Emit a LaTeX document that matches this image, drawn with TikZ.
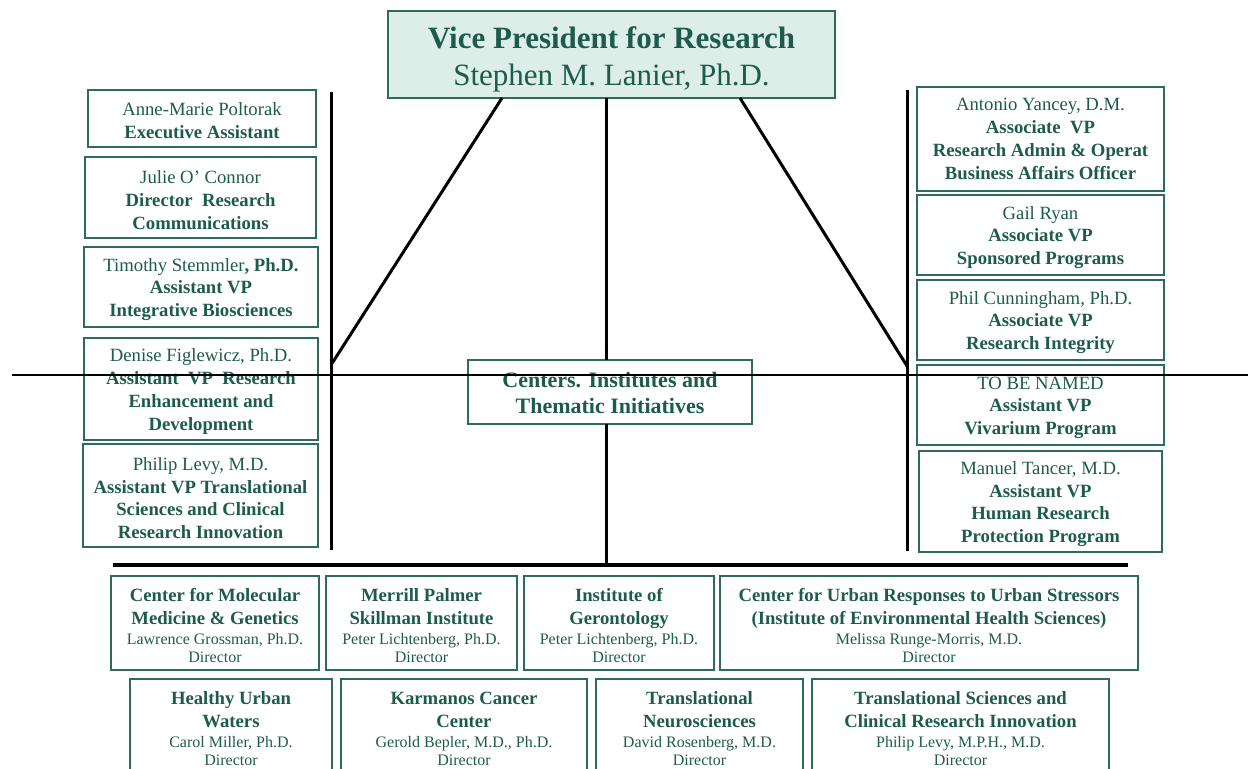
\documentclass[tikz,border=0pt]{standalone}
\usepackage{fontspec}
\setmainfont{Liberation Serif}
\definecolor{txt}{HTML}{1D5B4B}
\definecolor{bord}{HTML}{2E6B5C}
\definecolor{vpfill}{HTML}{DDEEE8}
\tikzset{
 orgbox/.style={draw=bord, line width=1pt, text=txt, align=center, inner sep=0pt, outer sep=0pt, font=\fontsize{9.35pt}{11.4pt}\selectfont},
 conn/.style={line width=1.5pt, black},
 busbar/.style={line width=2pt, black},
 thinline/.style={line width=1pt, black},
}
\def\orgtop{9pt}
\newcommand\orgbox[7][]{\node[orgbox,#1, minimum width={(#4-#2)*0.5pt}, minimum height={(#5-#3)*0.5pt}] (#6) at ({(#2+#4)/2},{(#3+#5)/2}) {\rule{0pt}{\orgtop}#7};}
\newcommand\sm{\fontsize{8pt}{9.6pt}\selectfont}
% centre box: name, x1, y1, x2, y2, bold line 1, bold line 2, director
\newcommand\ctrbox[8]{\orgbox{#2}{#3}{#4}{#5}{#1}{\textbf{#6}\\\textbf{#7}\\[-1pt]\sm #8\\[-2.5pt]\sm Director}}
\begin{document}
\begin{tikzpicture}[x=0.5pt,y=-0.5pt]
\useasboundingbox (0,0) rectangle (1248,769);
\clip (0,0) rectangle (1248,769);
% VP
{\def\orgtop{15.5pt}
\orgbox[fill=vpfill, font=\fontsize{15.5pt}{18.6pt}\selectfont]{388}{11}{835}{98}{vp}{\textbf{Vice President for Research}\\Stephen M. Lanier, Ph.D.}}
% left column
\orgbox{88}{90}{316}{147}{l1}{Anne-Marie Poltorak\\\textbf{Executive Assistant}}
\orgbox{85}{157}{316}{238}{l2}{Julie O’ Connor\\\textbf{Director\ \ Research}\\\textbf{Communications}}
\orgbox{84}{247}{318}{327}{l3}{Timothy Stemmler\textbf{, Ph.D.}\\\textbf{Assistant VP}\\\textbf{Integrative Biosciences}}
\orgbox{84}{338}{318}{440}{l4}{Denise Figlewicz, Ph.D.\\\textbf{Assistant\ \ VP\ \ Research}\\\textbf{Enhancement and}\\\textbf{Development}}
\orgbox{83}{444}{318}{547}{l5}{Philip Levy, M.D.\\\textbf{Assistant VP Translational}\\\textbf{Sciences and Clinical}\\\textbf{Research Innovation}}
% right column
{\def\orgtop{5pt}
\orgbox{917}{87}{1164}{191}{r1}{Antonio Yancey, D.M.\\\textbf{Associate\ \ VP}\\\textbf{Research Admin \& Operat}\\\textbf{Business Affairs Officer}}}
\orgbox{917}{195}{1164}{275}{r2}{Gail Ryan\\\textbf{Associate VP}\\\textbf{Sponsored Programs}}
\orgbox{917}{280}{1164}{360}{r3}{Phil Cunningham, Ph.D.\\\textbf{Associate VP}\\\textbf{Research Integrity}}
\orgbox{917}{365}{1164}{445}{r4}{TO BE NAMED\\\textbf{Assistant VP}\\\textbf{Vivarium Program}}
\orgbox{919}{451}{1162}{552}{r5}{Manuel Tancer, M.D.\\\textbf{Assistant VP}\\\textbf{Human Research}\\\textbf{Protection Program}}
% centre
\orgbox[font=\fontsize{11pt}{13pt}\selectfont\bfseries]{468}{360}{752}{424}{cit}{Centers. Institutes and\\Thematic Initiatives}
% bottom row 1
\ctrbox{b1}{111}{576}{319}{670}{Center for Molecular}{Medicine \& Genetics}{Lawrence Grossman, Ph.D.}
\ctrbox{b2}{326}{576}{517}{670}{Merrill Palmer}{Skillman Institute}{Peter Lichtenberg, Ph.D.}
\ctrbox{b3}{524}{576}{714}{670}{Institute of}{Gerontology}{Peter Lichtenberg, Ph.D.}
\ctrbox{b4}{720}{576}{1138}{670}{Center for Urban Responses to Urban Stressors}{(Institute of Environmental Health Sciences)}{Melissa Runge-Morris, M.D.}
% bottom row 2
\ctrbox{c1}{130}{679}{332}{773}{Healthy Urban}{Waters}{Carol Miller, Ph.D.}
\ctrbox{c2}{341}{679}{587}{773}{Karmanos Cancer}{Center}{Gerold Bepler, M.D., Ph.D.}
\ctrbox{c3}{596}{679}{803}{773}{Translational}{Neurosciences}{David Rosenberg, M.D.}
\ctrbox{c4}{812}{679}{1109}{773}{Translational Sciences and}{Clinical Research Innovation}{Philip Levy, M.P.H., M.D.}
% connectors
\coordinate (lvt) at (331,92);
\coordinate (lvb) at (331,550);
\coordinate (ljoin) at (331,365);
\coordinate (rvt) at (907,90);
\coordinate (rvb) at (907,551);
\coordinate (rjoin) at (907,366);
\coordinate (vpl) at (502,98);
\coordinate (vpr) at (740,98);
\coordinate (cx) at (606,0);
\coordinate (busl) at (113,565);
\coordinate (busr) at (1128,565);
\coordinate (hl) at (12,375);
\coordinate (hr) at (1248,375);
\draw[conn] (lvt) -- (lvb);
\draw[conn] (rvt) -- (rvb);
\draw[conn] (vpl) -- (ljoin);
\draw[conn] (vpr) -- (rjoin);
\draw[conn] (vp.south -| cx) -- (cit.north -| cx);
\draw[conn] (cit.south -| cx) -- (busl -| cx);
\draw[busbar] (busl) -- (busr);
\draw[thinline] (hl) -- (hr);
\end{tikzpicture}
\end{document}
